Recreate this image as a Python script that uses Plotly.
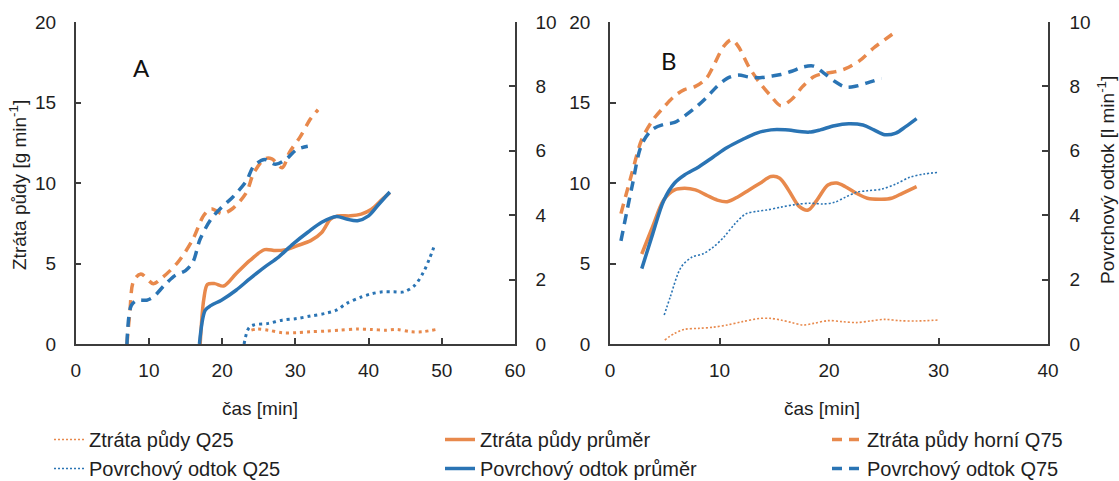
import plotly.graph_objects as go

# ---------------- Panel A data ----------------
a_sl_q25_x = [24.0, 24.8, 26.3, 28.2, 30.2, 32.1, 34.1, 36.0, 38.5, 40.4, 42.4, 43.9, 45.8, 47.3, 49.2]
a_sl_q25_y = [0.86, 0.93, 0.86, 0.70, 0.70, 0.76, 0.80, 0.86, 0.93, 0.90, 0.86, 0.90, 0.76, 0.76, 0.90]

a_sl_mean_x = [17.0, 17.5, 18.0, 19.0, 20.2, 21.9, 23.8, 25.8, 27.3, 28.7, 30.2, 32.1, 33.6, 34.8, 35.8, 37.5, 39.0, 40.4, 41.9, 42.9]
a_sl_mean_y = [0.0, 2.8, 3.7, 3.75, 3.6, 4.36, 5.19, 5.86, 5.8, 5.86, 6.1, 6.42, 6.93, 7.76, 7.96, 7.96, 8.07, 8.37, 9.0, 9.4]

a_sl_q75_x = [7.0, 7.4, 7.9, 8.9, 10.6, 11.9, 14.0, 16.0, 17.5, 18.5, 20.0, 21.4, 23.3, 24.3, 25.8, 26.8, 28.2, 29.2, 30.7, 32.1, 33.1]
a_sl_q75_y = [0.0, 2.0, 3.9, 4.35, 3.75, 4.15, 5.1, 6.5, 8.0, 8.4, 8.1, 8.4, 9.4, 10.6, 11.5, 11.5, 10.95, 11.9, 12.9, 14.0, 14.55]

a_ro_q25_x = [23.0, 23.6, 24.3, 26.3, 28.2, 30.2, 32.1, 34.1, 35.6, 37.0, 39.0, 40.4, 41.9, 43.4, 44.8, 46.3, 47.5, 48.3, 48.9]
a_ro_q25_y = [0.0, 0.48, 0.59, 0.64, 0.74, 0.79, 0.87, 0.95, 1.05, 1.26, 1.46, 1.56, 1.62, 1.62, 1.62, 1.82, 2.23, 2.64, 3.0]

a_ro_mean_x = [16.9, 17.7, 18.5, 19.9, 21.9, 23.8, 25.8, 27.7, 29.7, 31.7, 33.6, 35.6, 37.0, 38.5, 40.0, 41.4, 42.9]
a_ro_mean_y = [0.0, 1.05, 1.2, 1.36, 1.67, 2.03, 2.39, 2.7, 3.11, 3.47, 3.78, 3.96, 3.88, 3.83, 3.98, 4.34, 4.72]

a_ro_q75_x = [7.0, 7.6, 8.4, 9.7, 10.6, 12.1, 13.6, 15.0, 16.0, 17.0, 18.5, 19.9, 21.4, 23.3, 24.3, 25.8, 27.3, 28.7, 30.2, 31.7]
a_ro_q75_y = [0.0, 1.2, 1.36, 1.36, 1.46, 1.82, 2.13, 2.28, 2.54, 3.26, 3.88, 4.24, 4.55, 5.06, 5.52, 5.73, 5.58, 5.73, 6.04, 6.14]

# ---------------- Panel B data ----------------
b_sl_q25_x = [5.0, 5.9, 6.8, 8.1, 9.4, 10.7, 12.1, 13.7, 14.7, 15.6, 16.6, 17.6, 18.6, 19.9, 21.2, 22.5, 23.8, 25.1, 26.4, 28.0, 30.0]
b_sl_q25_y = [0.25, 0.66, 0.91, 0.97, 1.04, 1.18, 1.39, 1.59, 1.59, 1.49, 1.33, 1.18, 1.28, 1.45, 1.39, 1.33, 1.43, 1.53, 1.45, 1.43, 1.49]

b_sl_mean_x = [2.9, 3.9, 4.9, 5.9, 6.8, 7.8, 8.8, 9.8, 10.7, 11.7, 12.7, 13.7, 14.7, 15.5, 16.3, 17.3, 18.1, 18.9, 19.9, 20.7, 21.5, 22.5, 23.5, 24.8, 25.7, 26.7, 28.0]
b_sl_mean_y = [5.59, 7.3, 8.94, 9.57, 9.67, 9.57, 9.25, 8.94, 8.84, 9.15, 9.57, 9.98, 10.4, 10.3, 9.57, 8.53, 8.32, 8.94, 9.88, 10.0, 9.77, 9.36, 9.05, 8.99, 9.05, 9.36, 9.77]

b_sl_q75_x = [1.0, 2.0, 2.9, 3.9, 4.9, 5.9, 6.8, 7.8, 8.8, 9.4, 10.4, 11.1, 11.7, 12.7, 13.7, 14.7, 15.6, 16.6, 17.6, 18.6, 19.5, 20.5, 21.5, 22.8, 24.1, 25.1, 26.1]
b_sl_q75_y = [8.1, 10.6, 12.7, 13.9, 14.7, 15.4, 15.8, 16.0, 16.5, 17.2, 18.5, 18.9, 18.5, 17.2, 16.2, 15.4, 14.8, 15.2, 16.0, 16.6, 16.8, 16.9, 17.1, 17.6, 18.4, 18.9, 19.4]

b_ro_q25_x = [4.95, 5.5, 6.5, 7.5, 8.5, 9.4, 10.4, 11.4, 12.4, 13.4, 14.3, 15.6, 16.9, 18.2, 19.5, 20.5, 21.5, 22.5, 23.5, 24.8, 26.1, 27.4, 28.7, 30.0]
b_ro_q25_y = [0.9, 1.46, 2.39, 2.7, 2.8, 3.0, 3.32, 3.73, 4.04, 4.12, 4.16, 4.25, 4.33, 4.37, 4.35, 4.4, 4.56, 4.71, 4.76, 4.81, 4.97, 5.18, 5.28, 5.33]

b_ro_mean_x = [2.9, 3.9, 4.9, 5.9, 6.8, 8.1, 9.4, 10.7, 12.1, 13.4, 14.7, 16.0, 17.3, 18.2, 19.2, 20.5, 21.8, 23.1, 24.1, 25.1, 26.1, 27.0, 28.0]
b_ro_mean_y = [2.34, 3.42, 4.45, 5.0, 5.25, 5.5, 5.8, 6.1, 6.35, 6.55, 6.65, 6.65, 6.6, 6.58, 6.65, 6.78, 6.84, 6.8, 6.65, 6.5, 6.55, 6.75, 7.0]

b_ro_q75_x = [1.0, 2.0, 2.9, 3.9, 4.9, 5.9, 6.8, 7.8, 8.8, 9.8, 10.7, 11.7, 12.7, 13.7, 14.7, 15.6, 16.6, 17.6, 18.6, 19.5, 20.5, 21.5, 22.5, 23.5, 24.8]
b_ro_q75_y = [3.2, 4.87, 6.2, 6.67, 6.82, 6.88, 7.08, 7.34, 7.65, 8.01, 8.25, 8.35, 8.29, 8.27, 8.32, 8.37, 8.47, 8.6, 8.63, 8.42, 8.16, 7.98, 8.01, 8.11, 8.25]

names = ["Ztráta půdy Q25", "Ztráta půdy průměr", "Ztráta půdy horní Q75",
         "Povrchový odtok Q25", "Povrchový odtok průměr", "Povrchový odtok Q75"]

ORANGE = "#E8894C"
BLUE = "#2A74B4"
AXC = "#3c3c3c"
TXT = "#1e1e1e"
FONT = "Liberation Sans, Arial, sans-serif"

fig = go.Figure()

def add(x, y, name, color, dash, width, xa, ya, show, leg):
    fig.add_trace(go.Scatter(
        x=x, y=y, name=name, mode="lines",
        line=dict(color=color, dash=dash, width=width, shape="spline", smoothing=0.9),
        xaxis=xa, yaxis=ya, showlegend=show, legend=leg, hoverinfo="skip"))

DOT_A = "3px,4px"
DOT_B = "2px,2px"
DASH = "10px,7px"

# Panel A (legend hidden)
add(a_sl_q25_x, a_sl_q25_y, names[0], ORANGE, DOT_A, 3, "x", "y", False, "legend")
add(a_sl_mean_x, a_sl_mean_y, names[1], ORANGE, "solid", 3.5, "x", "y", False, "legend2")
add(a_sl_q75_x, a_sl_q75_y, names[2], ORANGE, DASH, 3.5, "x", "y", False, "legend3")
add(a_ro_q25_x, a_ro_q25_y, names[3], BLUE, DOT_A, 3, "x", "y2", False, "legend")
add(a_ro_mean_x, a_ro_mean_y, names[4], BLUE, "solid", 3.5, "x", "y2", False, "legend2")
add(a_ro_q75_x, a_ro_q75_y, names[5], BLUE, DASH, 3.5, "x", "y2", False, "legend3")
# Panel B (legend shown, three columns)
add(b_sl_q25_x, b_sl_q25_y, names[0], ORANGE, DOT_B, 1.6, "x2", "y3", True, "legend")
add(b_sl_mean_x, b_sl_mean_y, names[1], ORANGE, "solid", 3.5, "x2", "y3", True, "legend2")
add(b_sl_q75_x, b_sl_q75_y, names[2], ORANGE, DASH, 3.5, "x2", "y3", True, "legend3")
add(b_ro_q25_x, b_ro_q25_y, names[3], BLUE, DOT_B, 1.6, "x2", "y4", True, "legend")
add(b_ro_mean_x, b_ro_mean_y, names[4], BLUE, "solid", 3.5, "x2", "y4", True, "legend2")
add(b_ro_q75_x, b_ro_q75_y, names[5], BLUE, DASH, 3.5, "x2", "y4", True, "legend3")

W, H = 1119, 481
def px_x(p): return p / W
def px_y(p): return 1 - p / H

ydom = [px_y(344), px_y(22)]
common_ax = dict(showline=True, linecolor=AXC, linewidth=1.5, ticks="inside", ticklen=6,
                 tickwidth=1.5, tickcolor=AXC, showgrid=False, zeroline=False,
                 tickfont=dict(family=FONT, size=19, color=TXT), fixedrange=True)

def leg(xpix):
    return dict(orientation="v", x=px_x(xpix), y=px_y(420), xanchor="left", yanchor="top",
                traceorder="normal", font=dict(family=FONT, size=20, color=TXT),
                bgcolor="rgba(0,0,0,0)", borderwidth=0)

fig.update_layout(
    width=W, height=H, margin=dict(l=0, r=0, t=0, b=0, autoexpand=False),
    paper_bgcolor="white", plot_bgcolor="white",
    xaxis=dict(domain=[px_x(75.7), px_x(515)], range=[0, 60], dtick=10, anchor="y",
               ticklabelstandoff=8, **common_ax),
    yaxis=dict(domain=ydom, range=[0, 20], dtick=5, anchor="x", side="left",
               ticklabelstandoff=14, **common_ax),
    yaxis2=dict(domain=ydom, range=[0, 10], dtick=2, anchor="x", side="right",
                overlaying="y", ticklabelstandoff=15, **common_ax),
    xaxis2=dict(domain=[px_x(610), px_x(1048)], range=[0, 40], dtick=10, anchor="y3",
                ticklabelstandoff=8, **common_ax),
    yaxis3=dict(domain=ydom, range=[0, 20], dtick=5, anchor="x2", side="left",
                ticklabelstandoff=14, **common_ax),
    yaxis4=dict(domain=ydom, range=[0, 10], dtick=2, anchor="x2", side="right",
                overlaying="y3", ticklabelstandoff=16, **common_ax),
    legend=leg(49), legend2=leg(440), legend3=leg(827),
    showlegend=True,
)

ann = [
    dict(text="A", x=px_x(141), y=px_y(67), font=dict(family="Lato, Open Sans, sans-serif", size=24, color="#111")),
    dict(text="B", x=px_x(669), y=px_y(60), font=dict(family="Lato, Open Sans, sans-serif", size=24, color="#111")),
    dict(text="čas [min]", x=px_x(260), y=px_y(408), font=dict(family=FONT, size=19, color=TXT)),
    dict(text="čas [min]", x=px_x(822), y=px_y(408), font=dict(family=FONT, size=19, color=TXT)),
    dict(text="Ztráta půdy [g min<sup>-1</sup>]", x=px_x(18), y=px_y(185), textangle=-90,
         font=dict(family=FONT, size=19, color=TXT)),
    dict(text="Povrchový odtok [l min<sup>-1</sup>]", x=px_x(1106), y=px_y(180), textangle=-90,
         font=dict(family=FONT, size=19, color=TXT)),
]
for a in ann:
    a.update(xref="paper", yref="paper", showarrow=False, xanchor="center", yanchor="middle")
fig.update_layout(annotations=ann)

fig.write_html("out.html")
